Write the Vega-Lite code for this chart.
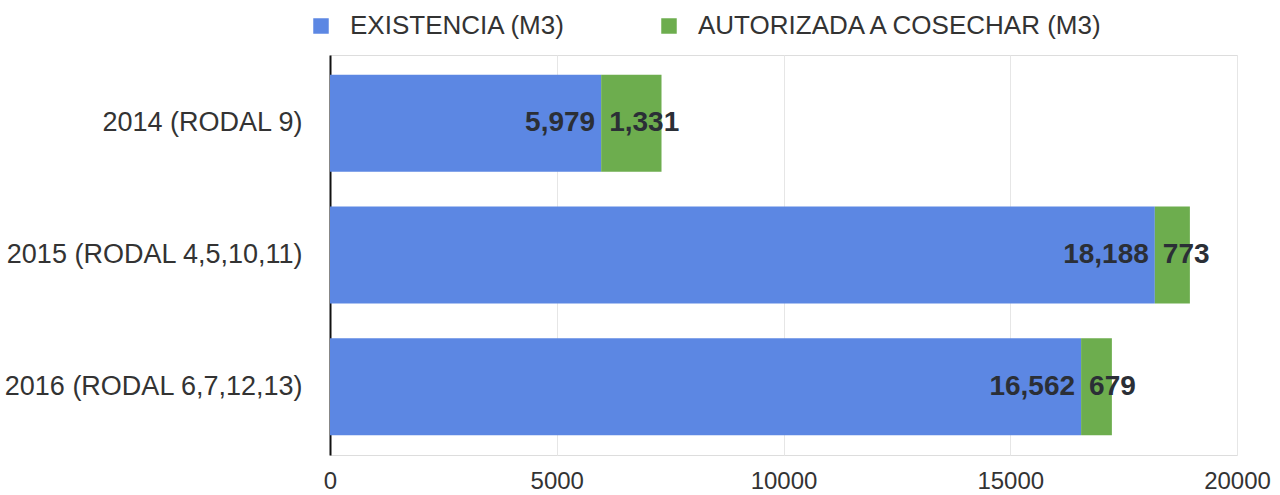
{
  "$schema": "https://vega.github.io/schema/vega-lite/v6.json",
  "width": 907,
  "height": 400,
  "autosize": {"type": "none"},
  "padding": {"left": 330, "top": 55, "right": 43, "bottom": 40},
  "background": "white",
  "data": {
    "values": [
      {"periodo": "2014 (RODAL 9)", "existencia": 5979, "autorizada": 1331},
      {"periodo": "2015 (RODAL 4,5,10,11)", "existencia": 18188, "autorizada": 773},
      {"periodo": "2016 (RODAL 6,7,12,13)", "existencia": 16562, "autorizada": 679}
    ]
  },
  "encoding": {
    "y": {
      "field": "periodo",
      "type": "nominal",
      "sort": null,
      "title": null,
      "scale": {"paddingInner": 0.265, "paddingOuter": 0.15},
      "axis": {
        "domain": true,
        "domainColor": "#111111",
        "domainWidth": 2,
        "ticks": false,
        "labelFont": "Liberation Sans",
        "labelFontSize": 27,
        "labelColor": "#333333",
        "labelPadding": 28,
        "labelLimit": 500,
        "grid": false
      }
    }
  },
  "layer": [
    {
      "transform": [
        {"fold": ["existencia", "autorizada"], "as": ["serie", "valor"]}
      ],
      "mark": {"type": "bar"},
      "encoding": {
        "x": {
          "field": "valor",
          "type": "quantitative",
          "stack": "zero",
          "title": null,
          "scale": {"domain": [0, 20000], "nice": false},
          "axis": {
            "values": [0, 5000, 10000, 15000, 20000],
            "format": "d",
            "domain": false,
            "ticks": false,
            "grid": true,
            "gridColor": "#e6e6e6",
            "gridWidth": 1,
            "labelFont": "Liberation Sans",
            "labelFontSize": 24,
            "labelColor": "#333333",
            "labelPadding": 14,
            "labelFlush": false
          }
        },
        "order": {"field": "serie", "sort": "descending"},
        "color": {
          "field": "serie",
          "type": "nominal",
          "scale": {
            "domain": ["existencia", "autorizada"],
            "range": ["#5c87e3", "#6dad4e"]
          },
          "legend": {
            "orient": "none",
            "legendX": -22,
            "legendY": -42,
            "direction": "horizontal",
            "title": null,
            "symbolType": "square",
            "symbolSize": 240,
            "symbolStrokeWidth": 0,
            "labelFont": "Liberation Sans",
            "labelFontSize": 26,
            "labelColor": "#333333",
            "labelOffset": 16,
            "columnPadding": 90,
            "labelLimit": 600,
            "labelExpr": "datum.value == 'existencia' ? 'EXISTENCIA (M3)' : 'AUTORIZADA A COSECHAR (M3)'"
          }
        }
      }
    },
    {
      "mark": {
        "type": "text",
        "align": "right",
        "baseline": "middle",
        "dx": -6,
        "font": "Liberation Sans",
        "fontSize": 28,
        "fontWeight": "bold",
        "color": "#2b2f36"
      },
      "encoding": {
        "x": {"field": "existencia", "type": "quantitative"},
        "text": {"field": "existencia", "type": "quantitative", "format": ","}
      }
    },
    {
      "mark": {
        "type": "text",
        "align": "left",
        "baseline": "middle",
        "dx": 8,
        "font": "Liberation Sans",
        "fontSize": 28,
        "fontWeight": "bold",
        "color": "#2b2f36"
      },
      "encoding": {
        "x": {"field": "existencia", "type": "quantitative"},
        "text": {"field": "autorizada", "type": "quantitative", "format": ","}
      }
    }
  ]
}
